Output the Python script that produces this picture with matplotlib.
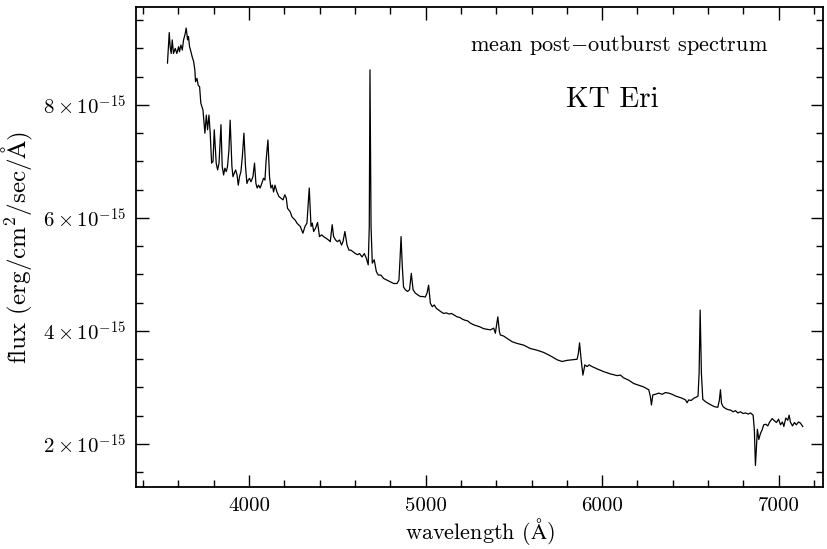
import matplotlib
matplotlib.use("Agg")
from matplotlib import pyplot as plt
from matplotlib.ticker import MultipleLocator, FuncFormatter
import numpy as np

plt.rcParams['font.family'] = 'serif'
plt.rcParams['font.serif'] = ['cmr10']
plt.rcParams['mathtext.fontset'] = 'cm'
plt.rcParams['axes.unicode_minus'] = False

# spectrum: wavelength (A), flux (1e-15 erg/cm2/s/A)
wave = [3538, 3548, 3553, 3559, 3565, 3572, 3582, 3591, 3601, 3606, 3614, 3622,
        3629, 3637, 3644, 3652, 3657, 3663, 3671, 3678, 3686, 3693, 3697, 3705,
        3712, 3720, 3727, 3739, 3750, 3758, 3765, 3773, 3780, 3788, 3796, 3803,
        3814, 3822, 3830, 3841, 3848, 3856, 3863, 3871, 3878, 3886, 3893, 3903,
        3909, 3916, 3924, 3932, 3939, 3946, 3954, 3962, 3971, 3980, 3988, 3995,
        4003, 4011, 4022, 4031, 4039, 4046, 4054, 4063, 4075, 4082, 4090, 4097,
        4107, 4116, 4124, 4132, 4139, 4147, 4158, 4169, 4181, 4192, 4203, 4211,
        4218, 4233, 4243, 4252, 4262, 4271, 4280, 4290, 4305, 4317, 4328, 4341,
        4351, 4358, 4366, 4377, 4388, 4399, 4411, 4422, 4437, 4450, 4460, 4471,
        4479, 4490, 4501, 4513, 4524, 4532, 4543, 4555, 4566, 4577, 4589, 4602,
        4615, 4626, 4640, 4653, 4664, 4675, 4681, 4685, 4691, 4698, 4709, 4721,
        4732, 4747, 4762, 4781, 4800, 4819, 4838, 4849, 4855, 4861, 4868, 4875,
        4885, 4898, 4909, 4919, 4929, 4942, 4955, 4970, 4985, 4998, 5008, 5017,
        5027, 5038, 5049, 5061, 5074, 5087, 5102, 5117, 5133, 5147, 5163, 5178,
        5193, 5208, 5223, 5238, 5253, 5272, 5291, 5310, 5329, 5348, 5367, 5386,
        5395, 5401, 5409, 5418, 5423, 5442, 5461, 5490, 5518, 5555, 5593, 5631,
        5669, 5707, 5745, 5773, 5801, 5830, 5858, 5865, 5872, 5881, 5891, 5902,
        5915, 5926, 5943, 5971, 6009, 6047, 6085, 6103, 6122, 6150, 6179, 6207,
        6235, 6264, 6273, 6279, 6287, 6302, 6320, 6340, 6358, 6377, 6396, 6415,
        6434, 6453, 6472, 6481, 6490, 6504, 6519, 6534, 6543, 6549, 6555, 6562,
        6570, 6585, 6600, 6617, 6636, 6655, 6664, 6670, 6676, 6685, 6698, 6711,
        6727, 6742, 6755, 6768, 6783, 6799, 6812, 6827, 6840, 6855, 6862, 6868,
        6874, 6879, 6887, 6897, 6906, 6915, 6927, 6938, 6949, 6963, 6976, 6987,
        6999, 7010, 7021, 7029, 7040, 7051, 7059, 7066, 7078, 7089, 7100, 7112,
        7123, 7136]
flux = [8.74, 9.28, 9.03, 8.91, 9.15, 8.91, 9.00, 8.91, 9.03, 8.94, 9.06, 8.97,
        9.15, 9.24, 9.36, 9.15, 9.21, 9.03, 8.94, 8.85, 8.77, 8.62, 8.41, 8.47,
        8.35, 8.32, 8.03, 7.91, 7.50, 7.82, 7.56, 7.82, 7.50, 6.97, 7.00, 7.56,
        6.97, 6.85, 6.97, 7.65, 6.91, 6.76, 6.88, 6.82, 6.91, 7.20, 7.73, 6.91,
        6.73, 6.79, 6.85, 6.76, 6.58, 6.73, 6.82, 7.08, 7.50, 6.91, 6.61, 6.67,
        6.70, 6.64, 6.73, 6.97, 6.61, 6.53, 6.58, 6.53, 6.64, 6.70, 6.67, 7.03,
        7.38, 6.73, 6.53, 6.58, 6.46, 6.58, 6.46, 6.38, 6.35, 6.32, 6.41, 6.35,
        6.17, 6.11, 6.02, 5.99, 5.96, 5.91, 5.88, 5.85, 5.73, 5.85, 5.91, 6.53,
        5.85, 5.91, 5.76, 5.82, 5.92, 5.67, 5.70, 5.67, 5.64, 5.61, 5.58, 5.88,
        5.67, 5.61, 5.58, 5.61, 5.52, 5.58, 5.76, 5.52, 5.43, 5.43, 5.40, 5.37,
        5.35, 5.37, 5.31, 5.37, 5.29, 5.17, 5.85, 8.62, 5.85, 5.20, 5.26, 5.05,
        4.99, 4.99, 4.93, 4.90, 4.87, 4.84, 4.84, 4.90, 5.26, 5.67, 5.14, 4.78,
        4.73, 4.70, 4.73, 5.02, 4.73, 4.67, 4.64, 4.61, 4.61, 4.60, 4.67, 4.81,
        4.49, 4.43, 4.46, 4.40, 4.37, 4.34, 4.31, 4.32, 4.30, 4.31, 4.28, 4.25,
        4.24, 4.21, 4.19, 4.18, 4.14, 4.11, 4.09, 4.07, 4.04, 4.03, 4.02, 4.05,
        3.96, 4.08, 4.25, 3.99, 3.93, 3.91, 3.87, 3.81, 3.78, 3.75, 3.69, 3.66,
        3.62, 3.56, 3.49, 3.46, 3.48, 3.49, 3.50, 3.60, 3.79, 3.49, 3.22, 3.40,
        3.37, 3.40, 3.37, 3.33, 3.28, 3.24, 3.21, 3.22, 3.17, 3.13, 3.07, 3.04,
        3.01, 2.96, 2.84, 2.69, 2.87, 2.88, 2.90, 2.88, 2.91, 2.90, 2.88, 2.85,
        2.83, 2.81, 2.78, 2.73, 2.78, 2.77, 2.81, 2.83, 2.85, 3.25, 4.37, 3.25,
        2.79, 2.75, 2.72, 2.69, 2.66, 2.65, 2.78, 2.96, 2.72, 2.66, 2.63, 2.61,
        2.60, 2.57, 2.59, 2.55, 2.57, 2.54, 2.55, 2.53, 2.55, 2.51, 2.25, 1.62,
        1.95, 2.26, 2.08, 2.19, 2.25, 2.34, 2.35, 2.32, 2.39, 2.45, 2.41, 2.38,
        2.44, 2.34, 2.39, 2.31, 2.46, 2.42, 2.51, 2.39, 2.32, 2.38, 2.34, 2.39,
        2.37, 2.31]

wave = np.array(wave)
flux = np.array(flux)

fig = plt.figure(figsize=(8.27, 5.49), dpi=100)
ax = fig.add_axes([0.1645, 0.113, 0.8305, 0.874])
ax.plot(wave, flux, color="black", linewidth=0.9)

ax.set_xlim(3360, 7250)
ax.set_ylim(1.24, 9.73)

ax.xaxis.set_major_locator(MultipleLocator(1000))
ax.xaxis.set_minor_locator(MultipleLocator(200))
ax.yaxis.set_major_locator(MultipleLocator(2))
ax.yaxis.set_minor_locator(MultipleLocator(0.5))
ax.yaxis.set_major_formatter(FuncFormatter(lambda v, p: r"$%d\times10^{-15}$" % round(v)))

ax.tick_params(which="both", direction="in", top=True, right=True, labelsize=15, width=1.0)
ax.tick_params(which="major", length=9, pad=7)
ax.tick_params(which="minor", length=5)
for s in ax.spines.values():
    s.set_linewidth(1.3)

ax.set_xlabel(r"wavelength ($\mathrm{\AA}$)", fontsize=16, labelpad=1)
ax.set_ylabel(r"flux (erg/cm$^2$/sec/$\mathrm{\AA}$)", fontsize=18, labelpad=6)

ax.text(0.704, 0.921, r"mean post$-$outburst spectrum", transform=ax.transAxes,
        ha="center", va="center", fontsize=16)
ax.text(0.694, 0.806, "KT Eri", transform=ax.transAxes,
        ha="center", va="center", fontsize=21)

plt.savefig("out.png", dpi=100)
